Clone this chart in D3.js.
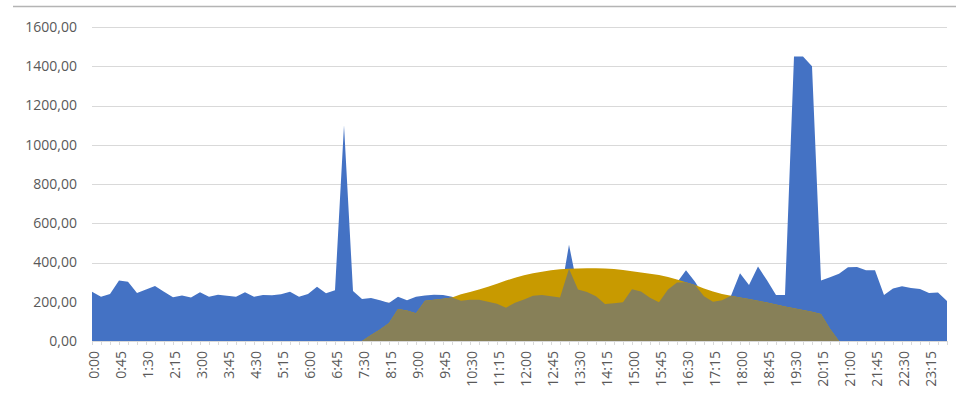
<!DOCTYPE html>
<html>
<head>
<meta charset="utf-8">
<script src="https://cdn.jsdelivr.net/npm/d3@7/dist/d3.min.js"></script>
<style>
  html, body { margin: 0; padding: 0; background: #ffffff; }
  svg { display: block; }
  text { font-family: "Open Sans", "Liberation Sans", sans-serif; fill: #595959; }
</style>
</head>
<body>
<svg id="chart" width="956" height="398"></svg>
<script>
// Quarter-hour slots of one day, 0:00 … 23:45
const slots = d3.range(96).map(i => `${Math.floor(i / 4)}:${String((i % 4) * 15).padStart(2, "0")}`);

// Household load per quarter hour
const load = [
  251, 226, 240, 308, 302, 244, 263, 280, 251, 223, 232, 222, 249, 226, 236, 230,
  225, 249, 225, 234, 233, 238, 251, 225, 240, 277, 243, 258, 1100, 255, 214, 219,
  208, 193, 225, 208, 225, 232, 236, 235, 226, 205, 210, 210, 200, 190, 170, 195,
  212, 230, 235, 228, 222, 490, 262, 250, 228, 188, 192, 198, 264, 252, 220, 197,
  262, 298, 360, 302, 228, 200, 208, 230, 345, 285, 379, 310, 234, 234, 1450, 1450,
  1400, 308, 325, 343, 376, 377, 360, 360, 234, 268, 279, 270, 265, 245, 247, 204
];

// PV production per quarter hour
const solar = [
  0, 0, 0, 0, 0, 0, 0, 0, 0, 0, 0, 0, 0, 0, 0, 0,
  0, 0, 0, 0, 0, 0, 0, 0, 0, 0, 0, 0, 0, 0, 0, 30,
  58, 92, 163, 155, 142, 205, 210, 215, 222, 238, 250, 262, 276, 292, 308, 322,
  335, 345, 353, 360, 365, 368, 370, 371, 371, 370, 367, 362, 356, 349, 343, 336,
  326, 314, 300, 285, 268, 252, 240, 231, 222, 214, 205, 196, 186, 176, 167, 158,
  149, 138, 62, 0, 0, 0, 0, 0, 0, 0, 0, 0, 0, 0, 0, 0
];

// Y axis ticks
const yTicks = [0, 200, 400, 600, 800, 1000, 1200, 1400, 1600];

// Shared part: whichever of load and production is smaller
const shared = load.map((v, i) => Math.min(v, solar[i]));

const svg = d3.select("#chart");
const plotLeft = 92, plotRight = 947, plotTop = 27, plotBottom = 341;

const x = d3.scalePoint().domain(slots).range([plotLeft, plotRight]);
const y = d3.scaleLinear().domain([0, 1600]).range([plotBottom, plotTop]);

// outer frame edge
svg.append("line")
  .attr("x1", 13).attr("x2", 956).attr("y1", 6.5).attr("y2", 6.5)
  .attr("stroke", "#b4b4b4").attr("stroke-width", 1.5);

// gridlines
svg.append("g")
  .selectAll("line")
  .data(yTicks.filter(d => d > 0))
  .join("line")
  .attr("x1", plotLeft).attr("x2", plotRight)
  .attr("y1", d => Math.round(y(d)) + 0.5).attr("y2", d => Math.round(y(d)) + 0.5)
  .attr("stroke", "#d9d9d9").attr("stroke-width", 1);

const area = vals => d3.area()
  .x((d, i) => x(slots[i]))
  .y0(y(0))
  .y1(d => y(d))(vals);

svg.append("path").attr("d", area(load)).attr("fill", "#4472c4");
svg.append("path").attr("d", area(solar)).attr("fill", "#c89a00");
svg.append("path").attr("d", area(shared)).attr("fill", "#878058");

// y axis labels
const fmt = v => d3.format(".2f")(v).replace(".", ",");
const yAxis = d3.axisLeft(y).tickValues(yTicks).tickFormat(fmt).tickSize(0).tickPadding(15);
const gy = svg.append("g").attr("transform", `translate(${plotLeft},0)`).call(yAxis);
gy.select(".domain").remove();
gy.selectAll("text").style("font-size", "14px").attr("fill", "#595959");

// x axis: line, minor ticks and rotated labels
const xAxis = d3.axisBottom(x).tickSize(4).tickPadding(8)
  .tickFormat((d, i) => (i % 3 === 0 ? d : ""));
const gx = svg.append("g").attr("transform", `translate(0,${plotBottom})`).call(xAxis);
gx.select(".domain").attr("stroke", "#d9d9d9").attr("d", `M${plotLeft},0.5H${plotRight}`);
gx.selectAll(".tick line").attr("stroke", "#d9d9d9");
gx.selectAll(".tick text")
  .style("font-size", "14px")
  .attr("fill", "#595959")
  .attr("transform", "rotate(-90)")
  .attr("text-anchor", "end")
  .attr("x", -10)
  .attr("y", 2)
  .attr("dy", "0.35em");
</script>
</body>
</html>
